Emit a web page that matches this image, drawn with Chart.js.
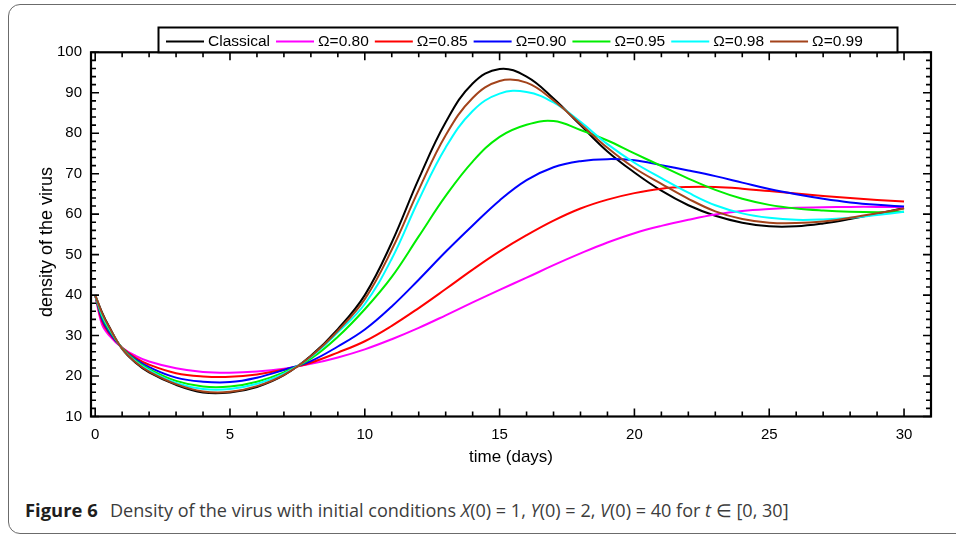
<!DOCTYPE html>
<html>
<head>
<meta charset="utf-8">
<script src="https://cdn.jsdelivr.net/npm/chart.js@4.4.1/dist/chart.umd.min.js"></script>
<style>
html,body{margin:0;padding:0;background:#fff;width:956px;height:535px;overflow:hidden;position:relative;}
#frame{position:absolute;left:8px;top:4px;width:990px;height:530px;border:1.3px solid #6b6b6b;border-radius:12px;box-sizing:border-box;}
#wrap{position:absolute;left:0;top:0;width:956px;height:480px;}
#cap{position:absolute;left:25px;top:500px;font-family:"Open Sans",sans-serif;font-size:17px;line-height:20px;color:#3c3c3c;white-space:nowrap;}
#cap b{color:#1e1e1e;font-weight:700;font-size:18.4px;}
#capText{position:absolute;left:85px;top:0;}
</style>
</head>
<body>
<div id="frame"></div>
<div id="wrap"><canvas id="c" width="956" height="480"></canvas></div>
<div id="cap"><b>Figure 6</b><span id="capText">Density of the virus with initial conditions <i>X</i>(0) = 1, <i>Y</i>(0) = 2, <i>V</i>(0) = 40 for <i>t</i> ∈ [0, 30]</span></div>
<script>
// ---- data ----
const tDays = [0, 0.25, 0.5, 1, 1.5, 2, 3, 4, 5, 6, 7, 8, 9, 10, 11, 12, 13, 14, 15, 16, 17, 18, 19, 20, 21, 22, 23, 24, 25, 26, 27, 28, 29, 30];

const classical = [40, 35.8, 32.4, 26.7, 23.3, 20.9, 17.8, 15.95, 15.95, 17.3, 20.2, 25.0, 31.6, 40.0, 53.0, 68.7, 82.7, 92.3, 95.9, 94.0, 88.6, 82.0, 75.5, 70.3, 65.8, 62.2, 59.6, 57.9, 57.0, 57.0, 57.7, 58.8, 60.1, 61.5];
const omega080 = [40, 32.8, 30.2, 27.0, 25.0, 23.6, 21.9, 21.0, 20.8, 21.1, 21.8, 23.0, 24.6, 26.6, 29.1, 31.9, 35.0, 38.2, 41.3, 44.3, 47.4, 50.3, 53.0, 55.3, 57.1, 58.6, 59.9, 60.8, 61.3, 61.6, 61.7, 61.8, 61.8, 61.8];
const omega085 = [40, 33.6, 30.7, 27.0, 24.5, 22.8, 20.7, 19.9, 19.8, 20.4, 21.6, 23.3, 25.8, 28.6, 32.4, 36.8, 41.5, 46.3, 50.8, 54.8, 58.4, 61.4, 63.6, 65.2, 66.3, 66.7, 66.7, 66.3, 65.7, 65.1, 64.5, 64.0, 63.5, 63.1];
const omega090 = [40, 34.2, 31.1, 26.9, 24.1, 22.2, 19.6, 18.6, 18.5, 19.6, 21.5, 23.7, 27.3, 31.5, 37.2, 43.8, 50.7, 57.2, 63.4, 68.4, 71.6, 73.1, 73.6, 73.3, 72.1, 70.8, 69.4, 67.8, 66.2, 64.9, 63.8, 62.9, 62.3, 61.9];
const omega095 = [40, 34.8, 31.6, 26.9, 23.8, 21.7, 18.8, 17.4, 17.4, 18.6, 20.9, 24.3, 29.7, 36.5, 44.5, 54.5, 64.5, 73.0, 79.1, 82.1, 83.0, 80.8, 78.2, 75.0, 71.9, 68.8, 66.0, 63.8, 62.3, 61.4, 60.9, 60.6, 60.5, 60.6];
const omega098 = [40, 35.2, 32.0, 26.8, 23.6, 21.4, 18.3, 16.8, 16.8, 18.1, 20.6, 24.7, 30.8, 37.8, 49.0, 63.5, 76.5, 85.5, 89.8, 90.2, 87.6, 82.8, 77.3, 72.7, 68.9, 65.3, 62.2, 60.2, 59.1, 58.6, 58.7, 59.1, 59.8, 60.6];
const omega099 = [40, 35.6, 32.3, 26.75, 23.4, 21.1, 18.0, 16.2, 16.1, 17.5, 20.3, 24.9, 31.2, 39.0, 51.2, 66.0, 79.5, 88.7, 92.9, 92.5, 88.1, 82.3, 76.4, 71.4, 67.5, 63.8, 60.7, 58.8, 57.9, 57.8, 58.2, 59.1, 60.2, 61.4];

const seriesLabels = ['Classical', 'Ω=0.80', 'Ω=0.85', 'Ω=0.90', 'Ω=0.95', 'Ω=0.98', 'Ω=0.99'];
const seriesValues = [classical, omega080, omega085, omega090, omega095, omega098, omega099];
const seriesColors = ['#000000', '#ff00ff', '#ff0000', '#0000ff', '#00ee00', '#00ffff', '#a3431b'];

const xTickLabels = [0, 5, 10, 15, 20, 25, 30];
const yTickLabels = [10, 20, 30, 40, 50, 60, 70, 80, 90, 100];
const xTitle = 'time (days)';
const yTitle = 'density of the virus';

// ---- styles ----
const FONT = '"Liberation Sans", Arial, sans-serif';

const datasets = seriesValues.map((vals, i) => ({
  label: seriesLabels[i],
  data: tDays.map((t, k) => ({ x: t, y: vals[k] })),
  borderColor: seriesColors[i],
  backgroundColor: seriesColors[i],
  borderWidth: 2,
  pointRadius: 0,
  fill: false,
  tension: 0.4,
  order: seriesValues.length - 1 - i
}));

const decor = {
  id: 'decor',
  afterDatasetsDraw(chart) {
    const ctx = chart.ctx;
    const { left, right, top, bottom } = chart.chartArea;
    const xs = chart.scales.x, ys = chart.scales.y;
    ctx.save();
    ctx.strokeStyle = '#000';
    // inward ticks on all four sides
    ctx.lineWidth = 1.6;
    ctx.beginPath();
    for (let v = 0; v <= 31; v += 1) {
      const len = (v % 5 === 0) ? 8 : 5;
      const px = xs.getPixelForValue(v);
      ctx.moveTo(px, bottom); ctx.lineTo(px, bottom - len);
      ctx.moveTo(px, top); ctx.lineTo(px, top + len);
    }
    for (let v = 10; v <= 100; v += 2) {
      const len = (v % 10 === 0) ? 8 : 5;
      const py = ys.getPixelForValue(v);
      ctx.moveTo(left, py); ctx.lineTo(left + len, py);
      ctx.moveTo(right, py); ctx.lineTo(right - len, py);
    }
    ctx.stroke();
    // plot frame
    ctx.lineWidth = 2.2;
    ctx.strokeRect(left, top, right - left, bottom - top);

    // legend box
    const bx0 = 158.5, bx1 = 897.5, by0 = 27.5, by1 = top;
    ctx.fillStyle = '#fff';
    ctx.fillRect(bx0, by0, bx1 - bx0, by1 - by0);
    ctx.lineWidth = 2;
    ctx.strokeRect(bx0, by0, bx1 - bx0, by1 - by0);
    ctx.font = '15.5px ' + FONT;
    ctx.textBaseline = 'middle';
    ctx.textAlign = 'left';
    let x = 166;
    const ly = 41.5;
    chart.data.datasets.forEach(ds => {
      ctx.strokeStyle = ds.borderColor;
      ctx.lineWidth = 2;
      ctx.beginPath();
      ctx.moveTo(x, ly); ctx.lineTo(x + 38, ly);
      ctx.stroke();
      ctx.fillStyle = '#000';
      ctx.fillText(ds.label, x + 42, ly + 0.5);
      x += 42 + ctx.measureText(ds.label).width + 6;
    });

    // y axis title
    ctx.fillStyle = '#000';
    ctx.font = '18px ' + FONT;
    ctx.translate(47, 242);
    ctx.rotate(-Math.PI / 2);
    ctx.textAlign = 'center';
    ctx.textBaseline = 'middle';
    ctx.fillText(yTitle, 0, 0);
    ctx.restore();
  }
};

new Chart(document.getElementById('c'), {
  type: 'line',
  data: { datasets },
  options: {
    responsive: false,
    animation: false,
    devicePixelRatio: 1,
    layout: { padding: { top: 52.3, right: 25, left: 0, bottom: 0 } },
    plugins: { legend: { display: false }, tooltip: { enabled: false } },
    scales: {
      x: {
        type: 'linear', min: -0.155, max: 31,
        grid: { display: false, drawTicks: false }, border: { display: false },
        afterBuildTicks: s => { s.ticks = xTickLabels.map(v => ({ value: v })); },
        afterFit: s => { s.height = 63.5; },
        ticks: { font: { family: FONT, size: 15 }, color: '#000', padding: 9, maxRotation: 0, autoSkip: false },
        title: { display: true, text: xTitle, color: '#000', font: { family: FONT, size: 17 }, padding: { top: 0, bottom: 12 } }
      },
      y: {
        type: 'linear', min: 10, max: 100,
        grid: { display: false, drawTicks: false }, border: { display: false },
        afterBuildTicks: s => { s.ticks = yTickLabels.map(v => ({ value: v })); },
        afterFit: s => { s.width = 91; },
        ticks: { font: { family: FONT, size: 15 }, color: '#000', padding: 9, autoSkip: false }
      }
    }
  },
  plugins: [decor]
});

// fit caption body text to the reference width
(function () {
  const el = document.getElementById('capText');
  const target = 679;
  const w = el.getBoundingClientRect().width;
  if (w > 0) {
    const fs = 17 * target / w;
    el.style.fontSize = fs.toFixed(2) + 'px';
  }
})();
</script>
</body>
</html>
